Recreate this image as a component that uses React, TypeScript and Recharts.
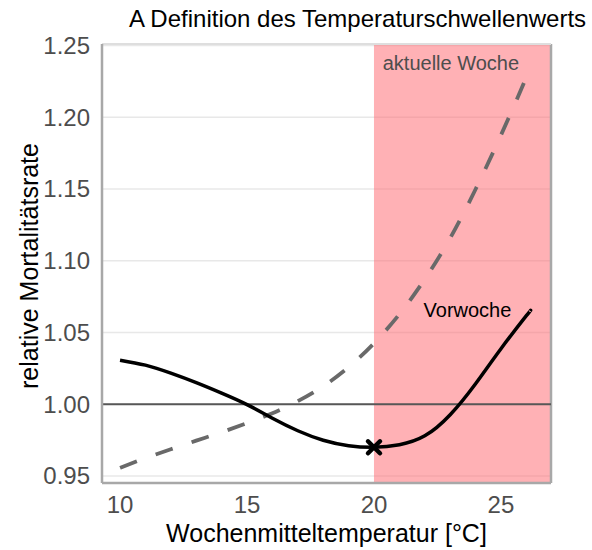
import React from 'react';
import {
  LineChart,
  Line,
  XAxis,
  YAxis,
  CartesianGrid,
  ReferenceArea,
  ReferenceLine,
  ReferenceDot,
} from 'recharts';

// Wochenmitteltemperatur [°C]
const temps = [10, 11, 12, 13, 14, 15, 16, 17, 18, 19, 20, 21, 22, 23, 24, 25, 26, 26.15];
// relative Mortalitätsrate, Vorwoche (solid)
const vorwoche = [
  1.0307, 1.0272, 1.0216, 1.015, 1.0077, 0.9997, 0.9902, 0.9815, 0.9749, 0.9711, 0.97, 0.9718,
  0.978, 0.9927, 1.0143, 1.0387, 1.0617, 1.065,
];
// relative Mortalitätsrate, aktuelle Woche (dashed)
const aktuelleWoche = [
  0.9557, 0.9624, 0.9686, 0.9746, 0.9805, 0.9868, 0.9937, 1.0021, 1.0125, 1.0258, 1.0425, 1.0627,
  1.0871, 1.1157, 1.1498, 1.1875, 1.2279, 1.236,
];
const xTicks = [10, 15, 20, 25];
const yTicks = [0.95, 1.0, 1.05, 1.1, 1.15, 1.2, 1.25];
const thresholdTemp = 20;

const X_DOMAIN: [number, number] = [9.29, 26.97];
const Y_DOMAIN: [number, number] = [0.9451, 1.251];
const FONT = '"Liberation Sans", Arial, sans-serif';

const data = temps.map((t, i) => ({ x: t, vorwoche: vorwoche[i], aktuell: aktuelleWoche[i] }));
const thresholdValue = vorwoche[temps.indexOf(thresholdTemp)];

function Cross({ cx, cy }: { cx?: number; cy?: number }) {
  if (cx == null || cy == null) return null;
  const s = 6;
  return (
    <g>
      <line x1={cx - s} y1={cy - s} x2={cx + s} y2={cy + s} stroke="#000" strokeWidth={4.5} strokeLinecap="round" />
      <line x1={cx - s} y1={cy + s} x2={cx + s} y2={cy - s} stroke="#000" strokeWidth={4.5} strokeLinecap="round" />
    </g>
  );
}

function annotation(text: string, color: string) {
  return ({ cx, cy }: { cx?: number; cy?: number }) => (
    <text
      x={cx}
      y={cy}
      dy="0.36em"
      textAnchor="middle"
      fontSize={20}
      fill={color}
      fontFamily={FONT}
    >
      {text}
    </text>
  );
}

export default function App() {
  return (
    <div
      style={{
        position: 'absolute',
        left: 0,
        top: 0,
        width: 592,
        height: 550,
        background: '#fff',
        fontFamily: FONT,
      }}
    >
      <div
        style={{
          position: 'absolute',
          left: 129,
          top: 4,
          fontSize: 24,
          color: '#000',
          whiteSpace: 'nowrap',
          lineHeight: '30px',
        }}
      >
        A Definition des Temperaturschwellenwerts
      </div>
      <LineChart
        width={592}
        height={550}
        data={data}
        margin={{ top: 44, right: 41, bottom: 7, left: 42 }}
      >
        <CartesianGrid vertical={false} stroke="#e8e8e8" strokeWidth={1.5} />
        <ReferenceLine x={X_DOMAIN[1]} stroke="#a8a8a8" strokeWidth={2.5} />
        <ReferenceLine y={Y_DOMAIN[1]} stroke="#dedede" strokeWidth={2} />
        <XAxis
          type="number"
          dataKey="x"
          domain={X_DOMAIN}
          ticks={xTicks}
          allowDataOverflow
          height={60}
          tickLine={false}
          tickMargin={7}
          axisLine={{ stroke: '#a8a8a8', strokeWidth: 2.5 }}
          tick={{ fontSize: 24, fill: '#4d4d4d', fontFamily: FONT }}
          label={{
            content: () => (
              <text x={326.5} y={542} textAnchor="middle" fontSize={25} fill="#000" fontFamily={FONT}>
                Wochenmitteltemperatur [°C]
              </text>
            ),
          }}
        />
        <YAxis
          type="number"
          domain={Y_DOMAIN}
          ticks={yTicks}
          allowDataOverflow
          width={60}
          tickLine={false}
          tickMargin={6}
          tickFormatter={(v: number) => v.toFixed(2)}
          axisLine={{ stroke: '#a8a8a8', strokeWidth: 2.5 }}
          tick={{ fontSize: 24, fill: '#4d4d4d', fontFamily: FONT }}
          label={{
            content: () => (
              <text
                x={38}
                y={266}
                transform="rotate(-90 38 266)"
                textAnchor="middle"
                fontSize={25}
                fill="#000"
                fontFamily={FONT}
              >
                relative Mortalitätsrate
              </text>
            ),
          }}
        />
        <ReferenceArea
          x1={thresholdTemp}
          x2={X_DOMAIN[1]}
          y1={Y_DOMAIN[0]}
          y2={Y_DOMAIN[1]}
          fill="#ff636b"
          fillOpacity={0.5}
          stroke="none"
        />
        <ReferenceLine y={1} stroke="#575757" strokeWidth={2} />
        <Line
          type="natural"
          dataKey="aktuell"
          stroke="#696969"
          strokeWidth={3.8}
          strokeDasharray="18 20"
          dot={false}
          isAnimationActive={false}
        />
        <Line
          type="natural"
          dataKey="vorwoche"
          stroke="#000"
          strokeWidth={3.5}
          dot={false}
          isAnimationActive={false}
        />
        <ReferenceDot x={thresholdTemp} y={thresholdValue} r={6} shape={Cross} />
        <ReferenceDot x={23.03} y={1.2376} r={1} shape={annotation('aktuelle Woche', '#4d4d4d')} />
        <ReferenceDot x={23.68} y={1.0659} r={1} shape={annotation('Vorwoche', '#000')} />
      </LineChart>
    </div>
  );
}
